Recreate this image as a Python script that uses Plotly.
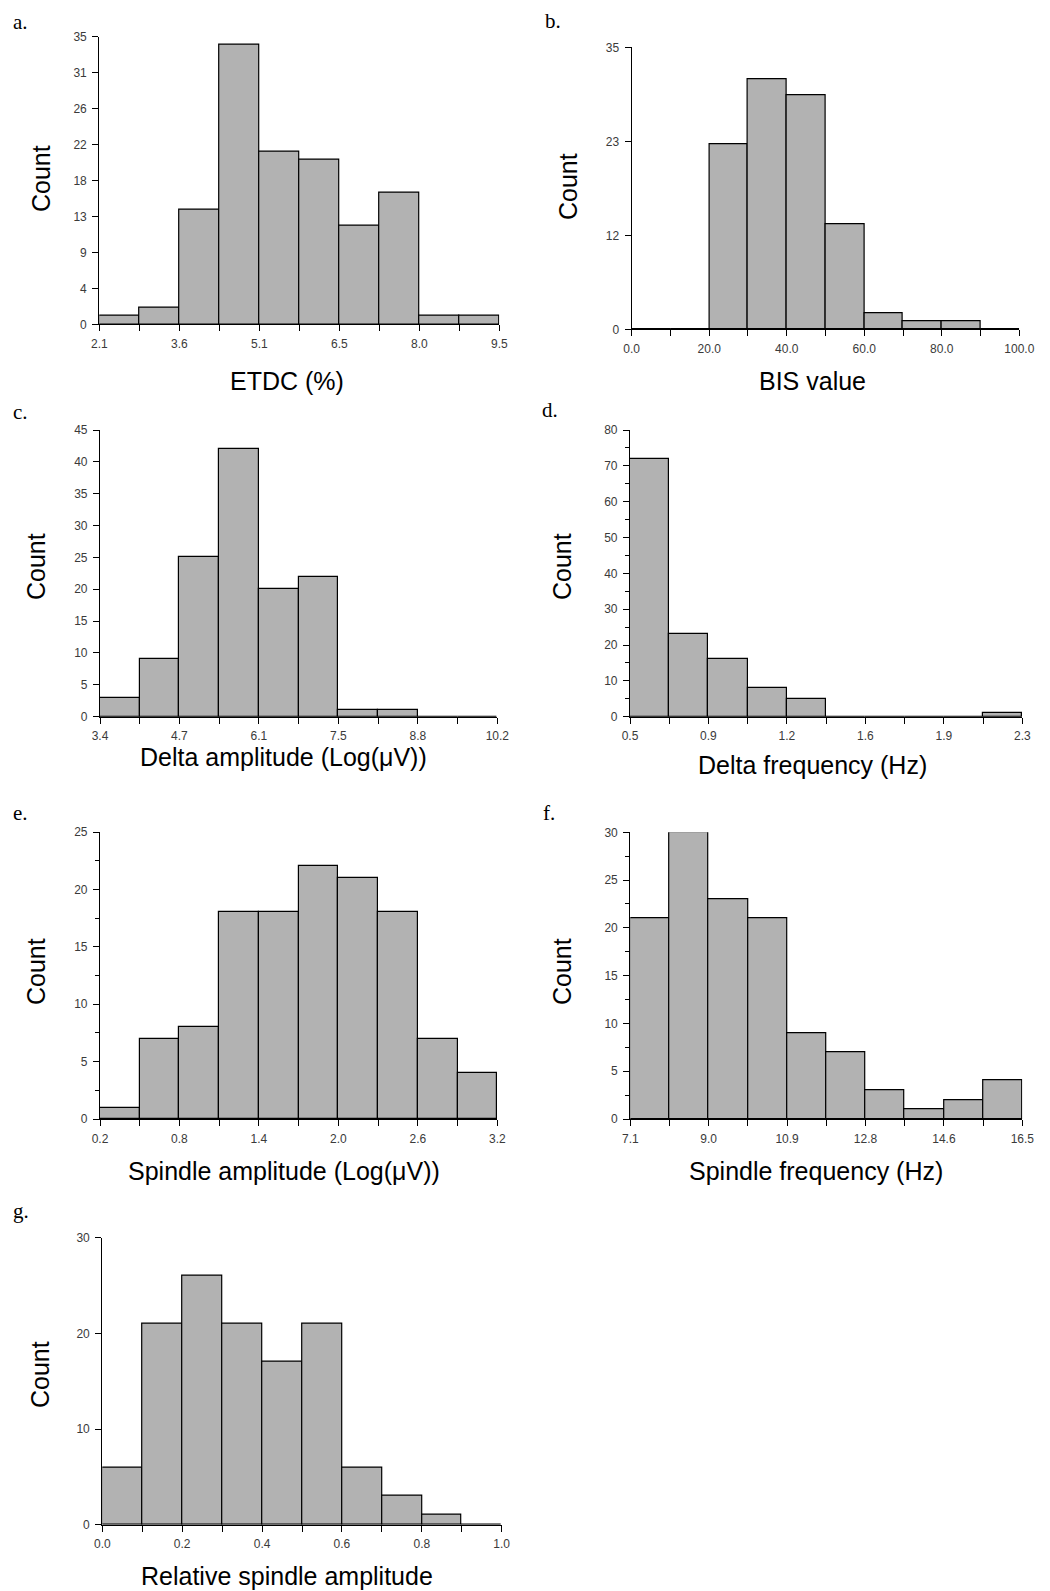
import plotly.graph_objects as go

# ---------------- data ----------------
a_counts = [1, 2, 14, 34, 21, 20, 12, 16, 1, 1]
a_lo, a_hi = 2.1, 9.5
a_xlabels = ["2.1", "3.6", "5.1", "6.5", "8.0", "9.5"]
a_ymax = 35
a_yticks = [0, 4, 9, 13, 18, 22, 26, 31, 35]

b_counts = [0, 0, 23, 31, 29, 13, 2, 1, 1, 0]
b_lo, b_hi = 0.0, 100.0
b_xlabels = ["0.0", "20.0", "40.0", "60.0", "80.0", "100.0"]
b_ymax = 35
b_yticks = [0, 12, 23, 35]

c_counts = [3, 9, 25, 42, 20, 22, 1, 1, 0, 0]
c_lo, c_hi = 3.4, 10.2
c_xlabels = ["3.4", "4.7", "6.1", "7.5", "8.8", "10.2"]
c_ymax = 45
c_yticks = [0, 5, 10, 15, 20, 25, 30, 35, 40, 45]

d_counts = [72, 23, 16, 8, 5, 0, 0, 0, 0, 1]
d_lo, d_hi = 0.5, 2.3
d_xlabels = ["0.5", "0.9", "1.2", "1.6", "1.9", "2.3"]
d_ymax = 80
d_yticks = [0, 10, 20, 30, 40, 50, 60, 70, 80]

e_counts = [1, 7, 8, 18, 18, 22, 21, 18, 7, 4]
e_lo, e_hi = 0.2, 3.2
e_xlabels = ["0.2", "0.8", "1.4", "2.0", "2.6", "3.2"]
e_ymax = 25
e_yticks = [0, 5, 10, 15, 20, 25]

f_counts = [21, 30, 23, 21, 9, 7, 3, 1, 2, 4]
f_lo, f_hi = 7.1, 16.5
f_xlabels = ["7.1", "9.0", "10.9", "12.8", "14.6", "16.5"]
f_ymax = 30
f_yticks = [0, 5, 10, 15, 20, 25, 30]

g_counts = [6, 21, 26, 21, 17, 21, 6, 3, 1, 0]
g_lo, g_hi = 0.0, 1.0
g_xlabels = ["0.0", "0.2", "0.4", "0.6", "0.8", "1.0"]
g_ymax = 30
g_yticks = [0, 10, 20, 30]

letters = ["a.", "b.", "c.", "d.", "e.", "f.", "g."]
xtitles = ["ETDC (%)", "BIS value", "Delta amplitude (Log(\u03bcV))",
           "Delta frequency (Hz)", "Spindle amplitude (Log(\u03bcV))",
           "Spindle frequency (Hz)", "Relative spindle amplitude"]

# ---------------- layout (pixels) ----------------
W, H = 1050, 1591
panels = [
    dict(c=a_counts, lo=a_lo, hi=a_hi, xl=a_xlabels, ymax=a_ymax, yt=a_yticks, yevenly=True,
         box=(99.3, 499.3, 36.7, 324.3), letter=(20, 22), xt=(287, 381), ct=(41, 179), minor=None),
    dict(c=b_counts, lo=b_lo, hi=b_hi, xl=b_xlabels, ymax=b_ymax, yt=b_yticks, yevenly=True,
         box=(631.7, 1019.3, 47.3, 329.3), letter=(553, 21), xt=(812, 381), ct=(568, 187), minor=None),
    dict(c=c_counts, lo=c_lo, hi=c_hi, xl=c_xlabels, ymax=c_ymax, yt=c_yticks, yevenly=False,
         box=(100, 497.3, 430, 716.7), letter=(20, 412), xt=(283, 757), ct=(36, 567), minor=None),
    dict(c=d_counts, lo=d_lo, hi=d_hi, xl=d_xlabels, ymax=d_ymax, yt=d_yticks, yevenly=False,
         box=(630, 1022.3, 430, 716.7), letter=(550, 410), xt=(812, 765), ct=(562, 567), minor=5),
    dict(c=e_counts, lo=e_lo, hi=e_hi, xl=e_xlabels, ymax=e_ymax, yt=e_yticks, yevenly=False,
         box=(100, 497.3, 832, 1119), letter=(20, 813), xt=(284, 1171), ct=(36, 972), minor=2.5),
    dict(c=f_counts, lo=f_lo, hi=f_hi, xl=f_xlabels, ymax=f_ymax, yt=f_yticks, yevenly=False,
         box=(630.3, 1022.3, 832.3, 1119), letter=(549, 813), xt=(816, 1171), ct=(562, 972), minor=2.5),
    dict(c=g_counts, lo=g_lo, hi=g_hi, xl=g_xlabels, ymax=g_ymax, yt=g_yticks, yevenly=False,
         box=(102.3, 501.7, 1237.7, 1524.7), letter=(21, 1211), xt=(287, 1576), ct=(40, 1375), minor=None),
]

fig = go.Figure()
annotations = []
tickfont = dict(family="Liberation Sans, Arial, sans-serif", size=12, color="#3a3a3a")
labfont = dict(family="Liberation Sans, Arial, sans-serif", size=25, color="black")
letfont = dict(family="Liberation Serif, Times New Roman, serif", size=21, color="black")

for i, p in enumerate(panels, start=1):
    n = len(p["c"])
    w = (p["hi"] - p["lo"]) / n
    centers = [p["lo"] + w * (k + 0.5) for k in range(n)]
    edges = [p["lo"] + w * k for k in range(n + 1)]
    xs = "x" if i == 1 else f"x{i}"
    ys = "y" if i == 1 else f"y{i}"
    fig.add_trace(go.Bar(
        x=centers, y=p["c"], width=w, xaxis=xs, yaxis=ys,
        marker=dict(color="#b2b2b2", line=dict(color="black", width=1.2)),
        cliponaxis=False, showlegend=False, hoverinfo="x+y"))

    x0, x1, yt, yb = p["box"]
    xtext = [p["xl"][k // 2] if k % 2 == 0 else "" for k in range(n + 1)]
    if p["yevenly"]:
        nt = len(p["yt"]) - 1
        yvals = [p["ymax"] * k / nt for k in range(nt + 1)]
    else:
        yvals = list(p["yt"])
    ytext = [str(v) for v in p["yt"]]

    xa = dict(domain=[x0 / W, x1 / W], range=[p["lo"], p["hi"]], anchor=ys, automargin=False,
              showgrid=False, zeroline=False, showline=True, linecolor="black", linewidth=1.2,
              ticks="outside", ticklen=6, tickwidth=1.2, tickcolor="black",
              tickmode="array", tickvals=edges, ticktext=xtext, tickfont=tickfont,
              ticklabelstandoff=2, fixedrange=True)
    ya = dict(domain=[1 - yb / H, 1 - yt / H], range=[0, p["ymax"]], anchor=xs, automargin=False,
              showgrid=False, zeroline=False, showline=True, linecolor="black", linewidth=1.2,
              ticks="outside", ticklen=6, tickwidth=1.2, tickcolor="black",
              tickmode="array", tickvals=yvals, ticktext=ytext, tickfont=tickfont,
              ticklabelstandoff=3, fixedrange=True)
    if p["minor"]:
        ya["minor"] = dict(tickmode="linear", dtick=p["minor"], tick0=0, ticks="outside",
                           ticklen=4, tickwidth=1, tickcolor="black", showgrid=False)
    fig.update_layout(**{("xaxis" if i == 1 else f"xaxis{i}"): xa,
                         ("yaxis" if i == 1 else f"yaxis{i}"): ya})

    lx, ly = p["letter"]
    annotations.append(dict(text=letters[i - 1], x=lx / W, y=1 - ly / H, xref="paper", yref="paper",
                            showarrow=False, font=letfont, xanchor="center", yanchor="middle"))
    tx, ty = p["xt"]
    annotations.append(dict(text=xtitles[i - 1], x=tx / W, y=1 - ty / H, xref="paper", yref="paper",
                            showarrow=False, font=labfont, xanchor="center", yanchor="middle"))
    cx, cy = p["ct"]
    annotations.append(dict(text="Count", x=cx / W, y=1 - cy / H, xref="paper", yref="paper",
                            showarrow=False, font=labfont, xanchor="center", yanchor="middle",
                            textangle=-90))

fig.update_layout(width=W, height=H, margin=dict(l=0, r=0, t=0, b=0),
                  paper_bgcolor="white", plot_bgcolor="white", bargap=0,
                  annotations=annotations)
fig.write_html("out.html", config={"displayModeBar": False},
               post_script="document.body.style.margin='0';document.body.style.padding='0';")
